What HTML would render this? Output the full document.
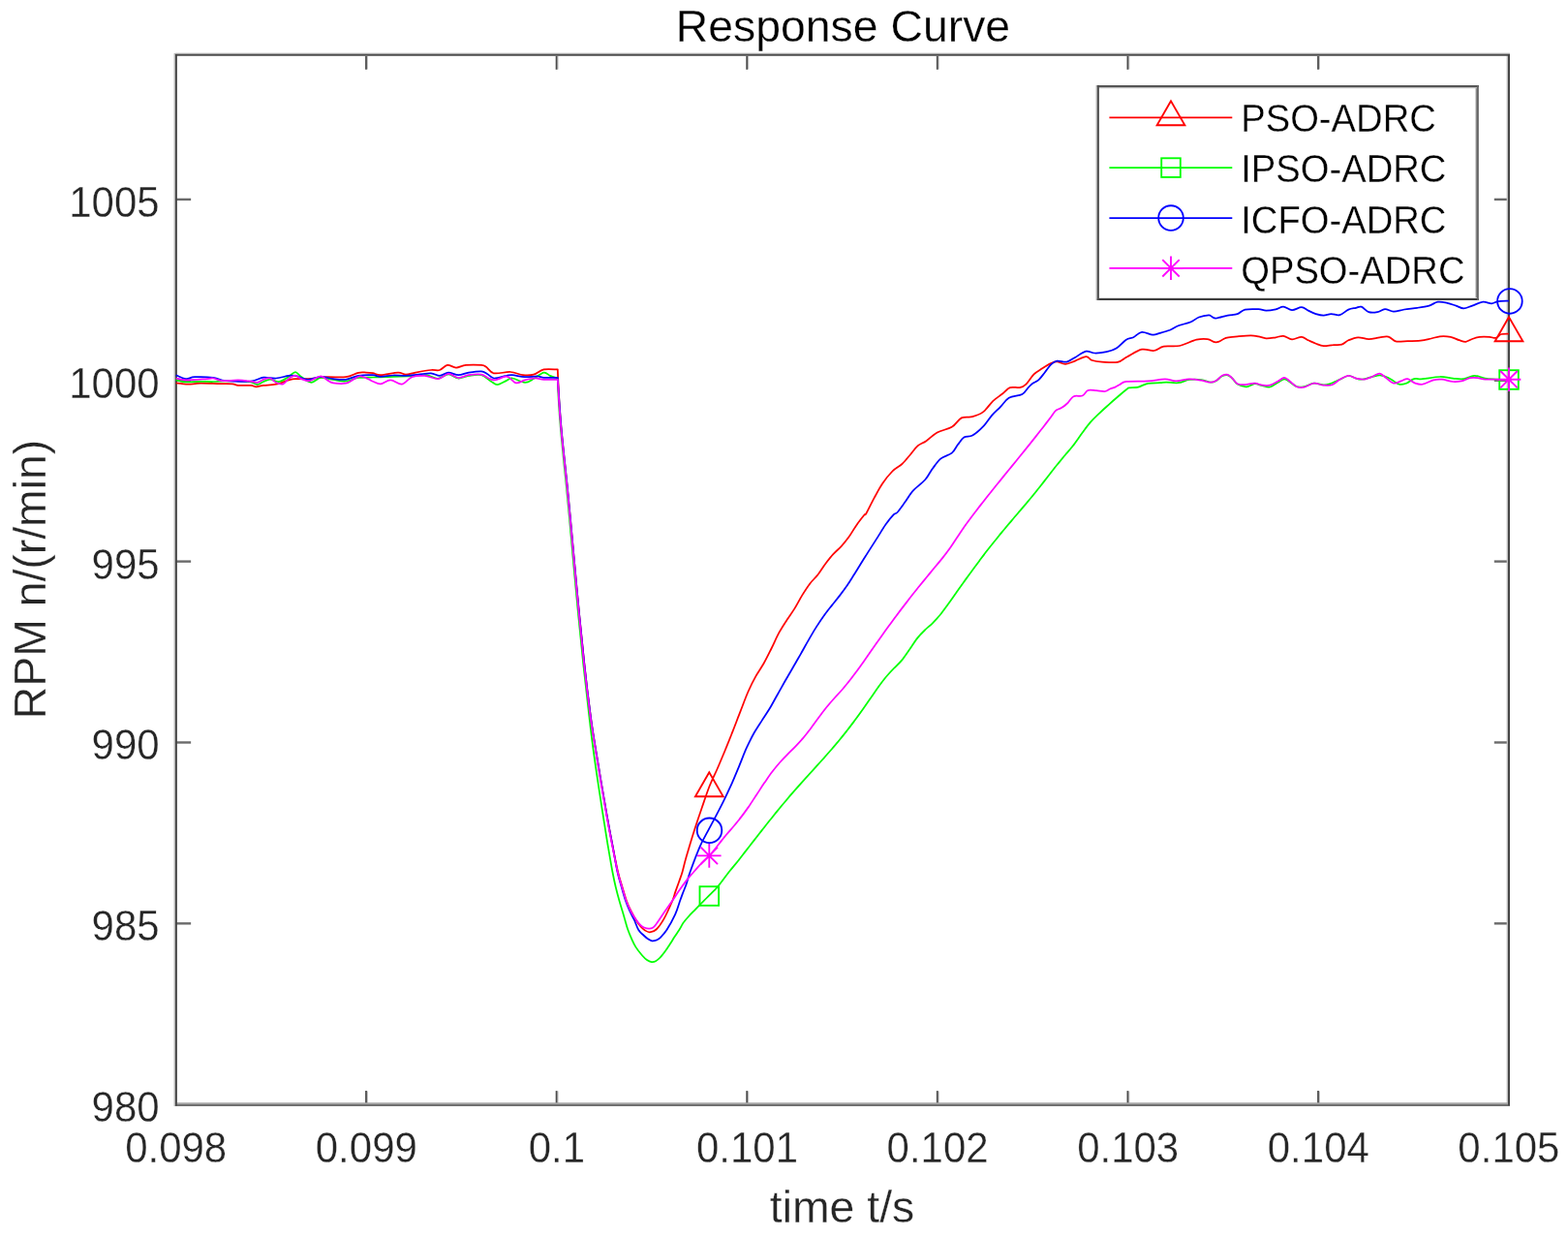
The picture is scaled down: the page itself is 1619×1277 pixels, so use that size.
<!DOCTYPE html>
<html lang="en">
<head>
<meta charset="utf-8">
<title>Response Curve</title>
<style>
html,body{margin:0;padding:0;background:#fff}
body{width:1619px;height:1277px;overflow:hidden}
svg{display:block}
text{font-family:"Liberation Sans",Arial,Helvetica,sans-serif}
</style>
</head>
<body>
<svg width="1619" height="1277" viewBox="0 0 1619 1277">
<rect width="1619" height="1277" fill="#fff"/>
<g fill="none" stroke-linecap="butt">
<path d="M379.35,1140.00V1126.40" stroke="#c4c4c4" stroke-width="1.3"/>
<path d="M378.00,1140.00V1126.10" stroke="#4c4c4c" stroke-width="1.8"/>
<path d="M379.35,57.90V71.50" stroke="#c4c4c4" stroke-width="1.3"/>
<path d="M378.00,57.90V71.80" stroke="#4c4c4c" stroke-width="1.8"/>
<path d="M575.95,1140.00V1126.40" stroke="#c4c4c4" stroke-width="1.3"/>
<path d="M574.60,1140.00V1126.10" stroke="#4c4c4c" stroke-width="1.8"/>
<path d="M575.95,57.90V71.50" stroke="#c4c4c4" stroke-width="1.3"/>
<path d="M574.60,57.90V71.80" stroke="#4c4c4c" stroke-width="1.8"/>
<path d="M772.55,1140.00V1126.40" stroke="#c4c4c4" stroke-width="1.3"/>
<path d="M771.20,1140.00V1126.10" stroke="#4c4c4c" stroke-width="1.8"/>
<path d="M772.55,57.90V71.50" stroke="#c4c4c4" stroke-width="1.3"/>
<path d="M771.20,57.90V71.80" stroke="#4c4c4c" stroke-width="1.8"/>
<path d="M969.15,1140.00V1126.40" stroke="#c4c4c4" stroke-width="1.3"/>
<path d="M967.80,1140.00V1126.10" stroke="#4c4c4c" stroke-width="1.8"/>
<path d="M969.15,57.90V71.50" stroke="#c4c4c4" stroke-width="1.3"/>
<path d="M967.80,57.90V71.80" stroke="#4c4c4c" stroke-width="1.8"/>
<path d="M1165.75,1140.00V1126.40" stroke="#c4c4c4" stroke-width="1.3"/>
<path d="M1164.40,1140.00V1126.10" stroke="#4c4c4c" stroke-width="1.8"/>
<path d="M1165.75,57.90V71.50" stroke="#c4c4c4" stroke-width="1.3"/>
<path d="M1164.40,57.90V71.80" stroke="#4c4c4c" stroke-width="1.8"/>
<path d="M1362.35,1140.00V1126.40" stroke="#c4c4c4" stroke-width="1.3"/>
<path d="M1361.00,1140.00V1126.10" stroke="#4c4c4c" stroke-width="1.8"/>
<path d="M1362.35,57.90V71.50" stroke="#c4c4c4" stroke-width="1.3"/>
<path d="M1361.00,57.90V71.80" stroke="#4c4c4c" stroke-width="1.8"/>
<path d="M181.95,953.34H197.15" stroke="#6a6a6a" stroke-width="2.4"/>
<path d="M1558.00,953.34H1542.80" stroke="#6a6a6a" stroke-width="2.4"/>
<path d="M181.95,766.48H197.15" stroke="#6a6a6a" stroke-width="2.4"/>
<path d="M1558.00,766.48H1542.80" stroke="#6a6a6a" stroke-width="2.4"/>
<path d="M181.95,579.61H197.15" stroke="#6a6a6a" stroke-width="2.4"/>
<path d="M1558.00,579.61H1542.80" stroke="#6a6a6a" stroke-width="2.4"/>
<path d="M181.95,392.75H197.15" stroke="#6a6a6a" stroke-width="2.4"/>
<path d="M1558.00,392.75H1542.80" stroke="#6a6a6a" stroke-width="2.4"/>
<path d="M181.95,205.89H197.15" stroke="#6a6a6a" stroke-width="2.4"/>
<path d="M1558.00,205.89H1542.80" stroke="#6a6a6a" stroke-width="2.4"/>
<path d="M180.35,55.10V1142.00" stroke="#b4b4b4" stroke-width="1.4"/>
<path d="M1556.35,55.10V1140.00" stroke="#bcbcbc" stroke-width="1.4"/>
<path d="M181.05,55.35H1559.00" stroke="#a8a8a8" stroke-width="1.4"/>
<path d="M182.85,1139.20H1557.00" stroke="#a4a4a4" stroke-width="1.7"/>
<path d="M181.00,1141.00H1559.00" stroke="#707070" stroke-width="2.0"/>
<path d="M181.00,56.90H1559.00" stroke="#4d4d4d" stroke-width="1.8"/>
<path d="M181.95,56.00V1141.50" stroke="#484848" stroke-width="1.9"/>
<path d="M1558.00,56.00V1141.20" stroke="#464646" stroke-width="2.0"/>
</g>
<g fill="none" stroke-linejoin="round" stroke-linecap="butt" stroke-width="1.75">
<path stroke="#ff0000" d="M181.7,395.5C182.8,395.6 185.8,396.0 188.0,396.2C190.2,396.4 191.8,396.8 195.0,396.7C198.2,396.6 201.7,395.8 207.0,395.7C212.3,395.6 221.5,396.1 227.0,396.2C232.5,396.3 236.8,396.1 240.0,396.4C243.2,396.7 242.8,397.6 246.0,397.9C249.2,398.1 255.9,397.7 259.0,397.9C262.1,398.1 262.3,399.3 264.5,399.3C266.7,399.3 268.6,398.3 272.0,397.9C275.4,397.5 280.7,397.6 285.0,396.7C289.3,395.8 294.7,393.3 298.0,392.4C301.3,391.5 301.7,391.3 305.0,391.1C308.3,390.9 312.7,391.4 318.0,391.1C323.3,390.8 330.5,389.5 337.0,389.2C343.5,388.9 351.5,389.9 357.0,389.2C362.5,388.5 366.5,385.6 370.0,384.8C373.5,384.0 375.5,384.5 378.0,384.6C380.5,384.7 382.5,384.8 385.0,385.2C387.5,385.6 388.7,387.3 393.0,387.2C397.3,387.1 406.7,384.7 411.0,384.6C415.3,384.5 416.0,386.6 419.0,386.6C422.0,386.6 424.7,385.4 429.0,384.6C433.3,383.8 440.8,382.4 445.0,382.0C449.2,381.6 451.2,382.9 454.0,382.0C456.8,381.1 459.2,377.3 462.0,376.9C464.8,376.5 467.8,379.5 471.0,379.5C474.2,379.5 476.7,377.3 481.0,376.9C485.3,376.5 493.5,376.6 497.0,376.9C500.5,377.2 499.8,377.4 502.0,378.8C504.2,380.2 505.8,384.4 510.0,385.3C514.2,386.2 522.0,383.7 527.0,384.0C532.0,384.3 536.0,386.8 540.0,387.2C544.0,387.6 547.4,387.6 551.0,386.6C554.6,385.6 557.4,382.3 561.5,381.4C565.6,380.5 573.1,381.4 575.4,381.4L575.8,381.4C576.0,386.6 576.7,402.7 577.3,412.6C577.9,422.5 578.6,431.4 579.4,440.8C580.2,450.2 581.2,459.6 582.2,469.0C583.2,478.4 584.1,486.3 585.2,497.0C586.3,507.7 586.9,514.2 588.7,533.0C590.5,551.8 593.4,584.7 595.8,610.0C598.2,635.3 600.9,663.3 603.3,685.0C605.6,706.7 607.8,724.2 609.9,740.0C612.0,755.8 613.4,763.3 616.1,780.0C618.8,796.7 623.6,824.7 626.3,840.0C629.0,855.3 630.3,862.0 632.3,872.0C634.2,882.0 636.3,892.7 638.0,900.0C639.7,907.3 641.1,911.0 642.6,916.0C644.1,921.0 645.4,925.8 646.9,930.0C648.4,934.2 650.1,937.7 651.8,941.0C653.4,944.3 655.2,947.4 656.8,950.0C658.4,952.6 660.0,954.8 661.5,956.5C663.0,958.2 664.4,959.5 666.0,960.5C667.6,961.5 669.1,962.5 671.0,962.3C672.9,962.1 675.2,961.8 677.6,959.5C680.0,957.2 682.7,953.5 685.5,948.6C688.3,943.7 692.3,934.6 694.3,930.0C696.2,925.4 696.1,924.4 697.2,921.1C698.3,917.8 699.9,913.7 701.1,910.2C702.3,906.7 703.4,904.2 704.6,900.0C705.8,895.8 706.5,891.9 708.5,885.0C710.5,878.1 713.8,866.8 716.5,858.4C719.2,850.0 721.8,842.3 724.5,834.5C727.2,826.7 729.8,818.5 732.5,811.7C735.2,805.0 737.8,800.1 740.5,794.0C743.2,787.9 745.8,781.5 748.5,775.0C751.2,768.5 753.8,761.9 756.5,755.1C759.2,748.3 761.8,741.2 764.5,734.4C767.2,727.5 769.8,720.1 772.5,714.0C775.2,707.9 777.8,702.7 780.5,697.9C783.2,693.1 785.8,689.7 788.5,685.0C791.2,680.3 793.8,674.9 796.5,669.5C799.2,664.1 801.8,657.8 804.5,652.9C807.2,648.0 809.8,644.1 812.5,640.0C815.2,635.9 817.8,632.4 820.5,628.1C823.2,623.8 825.8,618.4 828.5,614.1C831.2,609.8 833.8,605.7 836.5,602.2C839.2,598.7 841.8,596.6 844.5,593.2C847.2,589.8 849.8,585.2 852.5,581.7C855.2,578.2 857.8,574.8 860.5,571.9C863.2,569.0 865.8,567.0 868.5,564.1C871.2,561.2 873.8,558.0 876.5,554.3C879.2,550.6 881.8,545.7 884.5,541.9C887.2,538.1 890.9,533.5 892.5,531.5C894.1,529.5 892.7,532.9 894.4,530.0C896.1,527.1 899.8,519.2 902.6,514.1C905.4,509.0 908.2,503.7 911.3,499.1C914.4,494.5 918.0,489.9 921.4,486.5C924.8,483.1 928.3,481.9 931.4,479.0C934.5,476.1 937.5,472.1 940.2,469.0C942.9,465.9 945.0,462.5 947.7,460.2C950.4,457.9 953.1,457.5 956.4,455.2C959.7,452.9 963.3,448.8 967.7,446.4C972.1,444.0 978.6,443.3 982.8,440.8C987.0,438.3 989.2,433.2 992.8,431.4C996.3,429.6 1000.4,431.2 1004.1,430.2C1007.9,429.1 1011.8,427.8 1015.3,425.1C1018.8,422.4 1022.1,417.0 1025.4,413.9C1028.8,410.8 1032.5,408.6 1035.4,406.3C1038.3,404.0 1040.0,401.1 1042.9,400.1C1045.8,399.1 1050.2,400.6 1052.9,400.1C1055.6,399.6 1056.8,399.2 1059.2,396.9C1061.6,394.6 1064.7,389.2 1067.5,386.4C1070.3,383.6 1073.4,382.1 1076.3,380.2C1079.2,378.3 1082.6,376.2 1085.1,375.1C1087.6,374.0 1088.8,373.2 1091.3,373.3C1093.8,373.4 1097.0,375.9 1100.1,375.8C1103.2,375.7 1106.5,373.9 1110.1,372.6C1113.6,371.3 1118.5,368.3 1121.4,368.2C1124.3,368.1 1125.0,371.1 1127.7,372.0C1130.4,372.9 1133.3,373.3 1137.7,373.6C1142.1,373.9 1149.6,374.8 1154.0,373.9C1158.4,373.0 1159.8,370.4 1164.0,368.2C1168.2,366.0 1174.4,361.7 1179.0,360.7C1183.6,359.7 1187.8,362.5 1191.6,362.0C1195.4,361.5 1197.2,358.4 1201.6,357.6C1206.0,356.8 1212.3,358.1 1217.9,357.0C1223.5,355.9 1230.6,351.8 1235.4,350.7C1240.2,349.6 1243.6,349.7 1246.7,350.1C1249.8,350.5 1252.2,352.8 1254.2,353.2C1256.2,353.6 1257.1,353.2 1259.0,352.5C1260.9,351.8 1262.7,349.7 1265.8,348.8C1268.9,347.9 1273.4,347.7 1277.7,347.3C1282.0,346.9 1287.9,346.3 1291.5,346.3C1295.1,346.3 1296.8,346.8 1299.4,347.3C1302.0,347.8 1304.3,349.1 1307.3,349.3C1310.3,349.5 1314.2,348.7 1317.2,348.3C1320.2,347.9 1322.3,346.5 1325.1,346.8C1327.9,347.1 1330.9,350.1 1334.0,350.3C1337.1,350.5 1341.1,347.6 1343.9,347.8C1346.7,348.0 1348.3,350.2 1350.8,351.3C1353.3,352.4 1356.1,353.7 1358.7,354.7C1361.3,355.7 1363.6,356.9 1366.6,357.2C1369.6,357.4 1373.4,356.4 1376.5,356.2C1379.6,355.9 1382.8,356.5 1385.4,355.7C1388.0,354.9 1389.5,352.5 1392.3,351.3C1395.1,350.1 1398.7,348.5 1402.2,348.3C1405.7,348.1 1409.6,350.0 1413.3,350.0C1417.0,350.0 1421.2,348.8 1424.5,348.4C1427.8,348.0 1430.6,347.0 1433.4,347.6C1436.2,348.2 1438.3,351.5 1441.1,352.3C1443.9,353.1 1445.7,352.4 1450.0,352.3C1454.3,352.2 1462.1,352.2 1466.7,351.7C1471.3,351.2 1474.5,350.2 1477.8,349.5C1481.1,348.8 1483.4,347.6 1486.7,347.3C1490.0,347.0 1494.5,347.2 1497.8,347.8C1501.1,348.4 1504.1,350.4 1506.7,351.2C1509.3,352.0 1511.2,353.0 1513.4,352.8C1515.6,352.6 1517.7,350.8 1520.1,350.0C1522.5,349.2 1524.9,348.2 1527.9,347.8C1530.9,347.4 1535.1,347.6 1537.9,347.8C1540.7,348.0 1542.5,349.4 1544.5,348.9C1546.5,348.4 1547.9,345.7 1550.1,345.0C1552.3,344.3 1556.6,344.6 1557.9,344.5"/>
<path stroke="#00ff00" d="M181.7,392.0C183.1,392.4 185.8,394.1 190.0,394.4C194.2,394.7 202.0,393.9 207.0,393.8C212.0,393.7 215.7,394.1 220.0,394.0C224.3,393.9 228.7,393.6 233.0,393.5C237.3,393.4 241.7,393.1 246.0,393.3C250.3,393.5 255.7,393.9 259.0,394.5C262.3,395.1 263.8,397.1 266.0,397.0C268.2,396.9 269.8,394.9 272.0,394.0C274.2,393.1 276.3,391.5 279.0,391.5C281.7,391.5 284.8,394.4 288.0,394.0C291.2,393.6 295.2,390.7 298.0,389.0C300.8,387.3 302.8,384.0 305.0,384.0C307.2,384.0 308.2,387.2 311.0,389.0C313.8,390.8 318.2,394.6 321.5,394.8C324.8,395.0 327.2,390.5 331.0,390.0C334.8,389.5 339.7,391.4 344.0,392.0C348.3,392.6 352.7,393.8 357.0,393.5C361.3,393.2 365.3,390.7 370.0,390.0C374.7,389.3 380.0,389.6 385.0,389.5C390.0,389.4 394.2,389.4 400.0,389.2C405.8,389.0 413.3,388.7 420.0,388.4C426.7,388.1 434.7,386.8 440.0,387.2C445.3,387.6 448.2,390.9 452.0,390.8C455.8,390.7 459.5,386.6 463.0,386.5C466.5,386.4 469.5,390.2 473.0,390.5C476.5,390.8 480.0,388.6 484.0,388.0C488.0,387.4 493.2,386.2 497.0,387.2C500.8,388.1 504.2,392.1 507.0,393.7C509.8,395.3 511.0,397.1 513.6,397.0C516.2,396.9 520.1,394.2 522.7,393.1C525.3,392.0 525.8,390.2 529.0,390.5C532.2,390.8 538.3,394.7 542.0,394.8C545.7,394.9 547.8,392.8 551.0,391.1C554.2,389.4 558.7,385.1 561.5,384.6C564.3,384.1 565.7,386.9 568.0,387.9C570.3,388.9 574.2,390.1 575.4,390.5L575.8,390.5C575.9,394.2 576.2,404.2 576.7,412.6C577.2,421.0 577.9,431.4 578.7,440.8C579.5,450.2 580.5,459.6 581.4,469.0C582.3,478.4 583.2,486.3 584.3,497.0C585.4,507.7 586.0,514.2 587.8,533.0C589.5,551.8 592.4,584.7 594.8,610.0C597.2,635.3 599.9,663.3 602.2,685.0C604.5,706.7 606.5,724.2 608.4,740.0C610.3,755.8 611.1,763.3 613.4,780.0C615.7,796.7 620.0,824.7 622.4,840.0C624.8,855.3 625.8,862.0 627.5,872.0C629.2,882.0 631.0,892.7 632.4,900.0C633.8,907.3 634.6,911.0 635.8,916.0C637.0,921.0 638.3,925.8 639.5,930.0C640.7,934.2 641.8,937.7 642.8,941.0C643.8,944.3 644.5,946.8 645.4,950.0C646.3,953.2 647.3,957.0 648.4,960.0C649.5,963.0 650.4,965.3 651.7,968.2C653.0,971.1 654.5,974.6 656.4,977.6C658.3,980.6 661.3,984.3 663.2,986.5C665.1,988.7 666.4,989.9 668.0,991.0C669.6,992.1 671.2,992.9 672.7,993.1C674.2,993.3 675.5,993.1 677.0,992.3C678.5,991.5 679.9,990.2 681.6,988.5C683.3,986.8 685.3,984.1 687.0,981.8C688.7,979.5 690.1,977.2 691.7,974.8C693.3,972.4 694.8,969.8 696.4,967.3C698.0,964.8 699.8,962.3 701.3,960.0C702.8,957.7 704.0,955.0 705.1,953.3C706.2,951.6 706.4,951.5 707.6,950.0C708.8,948.5 710.6,946.5 712.3,944.6C714.0,942.7 716.5,940.4 718.0,938.8C719.5,937.2 720.1,936.6 721.6,935.1C723.1,933.6 725.1,931.6 727.0,929.7C728.9,927.8 730.6,926.0 733.0,923.6C735.4,921.2 738.0,919.0 741.3,915.1C744.6,911.2 749.2,904.6 752.8,900.0C756.4,895.4 759.9,891.5 762.9,887.7C765.9,883.9 768.2,880.8 770.9,877.4C773.6,874.0 776.2,870.5 778.9,867.1C781.6,863.7 784.2,860.3 786.9,856.9C789.6,853.5 792.2,850.1 794.9,846.8C797.6,843.5 800.2,840.1 802.9,836.9C805.6,833.6 808.2,830.5 810.9,827.3C813.6,824.1 816.2,821.0 818.9,817.9C821.6,814.8 824.2,811.9 826.9,808.9C829.6,805.9 832.2,803.0 834.9,800.0C837.6,797.0 840.2,794.2 842.9,791.2C845.6,788.2 848.2,785.3 850.9,782.3C853.6,779.3 856.2,776.3 858.9,773.2C861.6,770.1 864.2,766.9 866.9,763.7C869.6,760.5 872.2,757.2 874.9,753.8C877.6,750.4 880.2,746.9 882.9,743.3C885.6,739.7 888.2,736.1 890.9,732.3C893.6,728.5 896.2,724.6 898.9,720.7C901.6,716.9 904.2,712.9 906.9,709.2C909.6,705.5 912.2,701.9 914.9,698.7C917.6,695.5 920.2,692.8 922.9,690.0C925.6,687.2 928.2,685.1 930.9,681.9C933.6,678.7 936.2,674.6 938.9,670.8C941.6,667.0 944.2,662.5 946.9,659.1C949.6,655.7 952.2,653.1 954.9,650.5C957.6,647.9 960.2,646.0 962.9,643.3C965.6,640.6 968.2,637.8 970.9,634.5C973.6,631.2 976.2,627.5 978.9,623.8C981.6,620.1 984.2,616.3 986.9,612.5C989.6,608.7 992.2,604.9 994.9,601.2C997.6,597.5 1000.2,593.8 1002.9,590.2C1005.6,586.6 1008.2,583.0 1010.9,579.4C1013.6,575.8 1016.2,572.2 1018.9,568.8C1021.6,565.3 1024.2,562.0 1026.9,558.7C1029.6,555.4 1032.2,552.1 1034.9,548.9C1037.6,545.7 1040.2,542.5 1042.9,539.4C1045.6,536.2 1048.2,533.1 1050.9,530.0C1053.6,526.9 1056.2,523.8 1058.9,520.6C1061.6,517.4 1064.2,514.3 1066.9,511.0C1069.6,507.7 1072.2,504.4 1074.9,501.0C1077.6,497.6 1080.2,494.1 1082.9,490.7C1085.6,487.3 1088.2,483.8 1090.9,480.5C1093.6,477.2 1097.4,472.6 1098.9,470.8C1100.4,469.0 1098.5,471.3 1100.0,469.5C1101.5,467.7 1105.2,463.7 1108.0,460.0C1110.8,456.3 1114.0,451.6 1117.0,447.5C1120.0,443.4 1122.9,439.2 1126.1,435.6C1129.3,432.0 1132.7,429.0 1136.0,425.8C1139.3,422.6 1142.8,419.6 1146.1,416.6C1149.4,413.6 1153.1,410.5 1156.0,408.0C1158.9,405.5 1161.8,403.1 1163.5,401.8C1165.2,400.5 1164.0,400.8 1166.0,400.4C1168.0,400.0 1172.1,400.4 1175.3,399.6C1178.5,398.8 1181.5,396.5 1185.3,395.8C1189.0,395.1 1194.7,395.4 1197.8,395.2C1200.9,395.0 1201.0,394.6 1204.1,394.6C1207.2,394.6 1212.6,395.6 1216.6,395.2C1220.6,394.8 1223.9,392.5 1227.9,392.0C1231.9,391.5 1236.8,391.6 1240.5,392.0C1244.2,392.4 1247.4,394.5 1250.0,394.7C1252.6,394.9 1253.9,394.1 1255.9,393.0C1257.9,391.9 1259.9,389.2 1261.9,388.3C1263.9,387.4 1266.0,386.9 1267.8,387.3C1269.6,387.8 1271.0,389.5 1272.7,391.0C1274.4,392.5 1275.3,395.1 1277.7,396.5C1280.1,397.9 1284.0,399.4 1287.0,399.3C1290.0,399.2 1292.8,396.4 1295.5,396.2C1298.2,396.0 1300.8,397.6 1303.4,398.2C1306.0,398.8 1308.7,400.0 1311.3,399.5C1313.9,399.0 1316.7,396.3 1319.2,395.0C1321.7,393.7 1324.0,391.6 1326.1,391.5C1328.2,391.4 1329.9,393.2 1332.0,394.5C1334.1,395.8 1336.4,398.4 1338.9,399.2C1341.4,399.9 1343.8,399.6 1346.8,399.0C1349.8,398.4 1353.4,396.0 1356.7,395.7C1360.0,395.4 1363.9,397.2 1366.6,397.3C1369.3,397.4 1370.2,397.2 1373.0,396.3C1375.8,395.4 1380.2,393.2 1383.4,391.8C1386.6,390.4 1389.5,388.2 1392.3,388.0C1395.1,387.8 1397.8,390.0 1400.2,390.6C1402.7,391.2 1403.0,392.1 1407.0,391.5C1411.0,390.9 1419.7,387.4 1424.5,387.3C1429.3,387.2 1432.3,389.6 1435.6,391.2C1438.9,392.8 1441.7,396.0 1444.5,396.7C1447.3,397.4 1449.7,396.5 1452.3,395.6C1454.9,394.7 1457.2,391.9 1460.0,391.2C1462.8,390.5 1464.5,391.6 1468.9,391.2C1473.4,390.8 1481.5,389.1 1486.7,389.0C1491.9,388.9 1496.0,390.2 1500.1,390.6C1504.2,391.0 1507.5,391.7 1511.2,391.2C1514.9,390.7 1518.6,387.9 1522.3,387.8C1526.0,387.7 1529.7,390.0 1533.4,390.6C1537.1,391.2 1540.4,391.3 1544.5,391.6C1548.6,391.9 1555.7,392.1 1557.9,392.2"/>
<path stroke="#0000ff" d="M181.7,387.2C183.4,387.9 188.8,390.8 192.0,391.1C195.2,391.4 196.3,389.4 201.0,389.2C205.7,389.0 214.7,389.1 220.0,389.8C225.3,390.5 226.5,392.5 233.0,393.1C239.5,393.7 252.5,394.1 259.0,393.5C265.5,392.9 267.7,390.1 272.0,389.6C276.3,389.1 280.7,390.8 285.0,390.5C289.3,390.2 294.7,388.3 298.0,387.9C301.3,387.5 301.7,387.2 305.0,387.9C308.3,388.5 313.7,391.6 318.0,391.8C322.3,392.0 326.7,388.9 331.0,388.8C335.3,388.7 339.7,390.6 344.0,391.1C348.3,391.6 352.7,392.3 357.0,391.8C361.3,391.3 365.3,388.7 370.0,387.9C374.7,387.1 381.2,387.0 385.0,387.2C388.8,387.4 389.5,388.8 393.0,388.8C396.5,388.9 401.7,387.6 406.0,387.5C410.3,387.4 414.7,388.0 419.0,387.9C423.3,387.8 427.7,387.0 432.0,386.6C436.3,386.2 441.3,385.1 445.0,385.3C448.7,385.5 451.0,388.0 454.0,387.9C457.0,387.8 459.8,384.7 463.0,384.6C466.2,384.5 469.9,387.2 473.4,387.2C476.9,387.2 480.1,385.2 484.0,384.6C487.9,384.0 493.8,383.1 497.0,383.3C500.2,383.5 500.8,384.7 503.0,385.9C505.2,387.1 506.7,390.2 510.0,390.5C513.3,390.8 519.8,388.4 523.0,387.9C526.2,387.3 525.8,387.0 529.0,387.2C532.2,387.4 537.7,389.0 542.0,389.2C546.3,389.4 551.8,388.4 555.0,388.5C558.2,388.6 558.1,389.6 561.5,389.8C564.9,390.0 573.1,389.8 575.4,389.8L575.8,389.8C576.0,393.6 576.7,404.1 577.3,412.6C577.9,421.1 578.6,431.4 579.4,440.8C580.2,450.2 581.2,459.6 582.2,469.0C583.2,478.4 584.1,486.3 585.2,497.0C586.3,507.7 586.9,514.2 588.7,533.0C590.5,551.8 593.4,584.7 595.8,610.0C598.2,635.3 600.9,663.3 603.3,685.0C605.6,706.7 607.8,724.2 609.9,740.0C612.0,755.8 613.4,763.3 616.1,780.0C618.8,796.7 623.6,824.7 626.3,840.0C629.0,855.3 630.4,862.0 632.3,872.0C634.2,882.0 635.9,892.7 637.5,900.0C639.1,907.3 640.4,911.0 641.8,916.0C643.2,921.0 644.6,926.0 646.0,930.0C647.4,934.0 648.5,936.7 650.0,940.0C651.5,943.3 653.5,946.7 655.0,950.0C656.5,953.3 657.7,957.4 659.3,960.0C660.9,962.6 662.9,964.0 664.5,965.5C666.1,967.0 667.5,968.3 669.0,969.3C670.5,970.3 671.9,971.1 673.3,971.3C674.7,971.5 676.1,971.1 677.5,970.6C678.9,970.1 679.8,969.9 681.6,968.1C683.4,966.3 685.8,964.0 688.4,960.0C691.0,956.0 694.9,948.9 697.2,943.9C699.5,938.9 700.8,933.7 702.1,930.0C703.4,926.3 704.0,924.9 705.1,921.9C706.2,918.9 707.8,915.4 709.0,911.7C710.2,908.1 710.3,906.3 712.6,900.0C714.9,893.7 719.8,880.7 722.8,873.7C725.8,866.7 728.1,863.3 730.8,858.2C733.5,853.1 736.1,848.2 738.8,843.1C741.5,838.0 744.1,833.0 746.8,827.6C749.5,822.2 752.1,816.7 754.8,810.7C757.5,804.7 760.1,798.2 762.8,791.8C765.5,785.4 768.1,778.1 770.8,772.2C773.5,766.3 776.1,761.1 778.8,756.3C781.5,751.5 784.1,747.8 786.8,743.6C789.5,739.4 792.1,735.6 794.8,731.2C797.5,726.8 800.1,721.7 802.8,717.0C805.5,712.3 808.1,707.5 810.8,702.8C813.5,698.1 816.1,693.6 818.8,689.0C821.5,684.4 824.1,679.8 826.8,675.1C829.5,670.4 832.1,665.5 834.8,660.9C837.5,656.3 840.1,651.6 842.8,647.4C845.5,643.1 848.1,639.1 850.8,635.4C853.5,631.7 856.1,628.5 858.8,625.1C861.5,621.7 864.1,618.6 866.8,615.1C869.5,611.6 872.1,608.2 874.8,604.3C877.5,600.4 880.1,596.0 882.8,591.8C885.5,587.5 888.1,583.1 890.8,578.8C893.5,574.5 896.1,570.3 898.8,566.1C901.5,561.9 904.1,557.8 906.8,553.6C909.5,549.4 912.1,544.7 914.8,541.0C917.5,537.3 920.9,533.2 922.8,531.2C924.7,529.2 924.5,531.0 926.4,529.0C928.2,527.0 931.2,522.8 933.9,519.1C936.6,515.4 939.2,510.6 942.7,506.6C946.2,502.6 951.9,499.1 955.2,495.3C958.5,491.5 960.0,487.6 962.7,484.0C965.4,480.4 968.1,476.1 971.5,473.4C974.9,470.7 979.9,470.1 982.8,467.7C985.7,465.3 986.9,461.7 989.0,459.0C991.1,456.3 992.8,453.1 995.3,451.5C997.8,449.9 1000.8,451.5 1004.1,449.6C1007.4,447.7 1012.0,443.6 1015.3,440.2C1018.6,436.8 1021.2,432.2 1024.1,428.9C1027.0,425.5 1030.0,423.1 1032.9,420.1C1035.8,417.1 1038.0,412.9 1041.7,410.7C1045.5,408.5 1052.1,408.8 1055.4,407.0C1058.7,405.2 1059.9,402.0 1061.7,400.1C1063.5,398.2 1064.5,397.1 1066.3,395.8C1068.1,394.5 1070.4,394.0 1072.5,392.1C1074.6,390.2 1076.7,387.1 1078.8,384.5C1080.9,381.9 1083.0,378.4 1085.1,376.4C1087.2,374.4 1088.6,373.1 1091.3,372.6C1094.0,372.1 1098.3,374.2 1101.4,373.6C1104.5,373.0 1106.8,370.7 1110.1,368.9C1113.4,367.1 1118.1,363.3 1121.4,362.6C1124.8,361.9 1126.7,364.4 1130.2,364.5C1133.8,364.6 1139.0,364.0 1142.7,363.2C1146.5,362.4 1149.4,361.6 1152.7,359.5C1156.0,357.4 1159.9,352.6 1162.8,350.7C1165.7,348.8 1167.6,349.5 1170.3,348.2C1173.0,346.9 1175.7,343.2 1179.0,342.8C1182.3,342.4 1187.2,345.5 1190.3,345.7C1193.4,345.9 1194.9,344.6 1197.8,343.8C1200.7,343.0 1204.8,341.9 1207.9,340.7C1211.0,339.4 1213.0,337.7 1216.6,336.3C1220.1,334.9 1225.7,334.0 1229.2,332.5C1232.8,331.0 1234.8,328.7 1237.9,327.5C1241.0,326.3 1245.8,325.4 1248.0,325.3C1250.2,325.2 1249.7,326.3 1251.0,326.8C1252.3,327.3 1253.1,328.7 1255.9,328.5C1258.7,328.3 1264.2,326.3 1267.8,325.6C1271.4,324.9 1274.7,325.1 1277.7,324.1C1280.7,323.1 1282.0,320.4 1285.6,319.6C1289.2,318.8 1295.8,319.0 1299.4,319.2C1303.0,319.4 1304.3,320.6 1307.3,320.6C1310.3,320.6 1314.2,320.0 1317.2,319.4C1320.2,318.8 1322.3,316.6 1325.1,316.7C1327.9,316.8 1330.9,320.0 1334.0,320.1C1337.1,320.2 1341.1,317.1 1343.9,317.2C1346.7,317.3 1348.3,319.5 1350.8,320.6C1353.3,321.8 1356.1,323.3 1358.7,324.1C1361.3,324.9 1364.0,325.6 1366.6,325.6C1369.2,325.6 1371.7,324.2 1374.5,324.1C1377.3,324.0 1380.4,325.9 1383.4,325.1C1386.4,324.4 1389.5,320.8 1392.3,319.6C1395.1,318.4 1397.8,318.3 1400.0,317.8C1402.2,317.3 1403.4,316.0 1405.6,316.7C1407.8,317.4 1410.5,321.3 1413.3,322.2C1416.1,323.1 1419.4,322.7 1422.2,322.2C1425.0,321.7 1427.2,319.2 1430.0,319.1C1432.8,319.0 1435.6,321.6 1438.9,321.7C1442.2,321.8 1445.9,320.1 1450.0,319.5C1454.1,318.9 1459.1,318.4 1463.4,317.8C1467.7,317.2 1472.1,316.6 1475.6,315.6C1479.1,314.6 1481.3,312.2 1484.5,311.7C1487.7,311.2 1491.3,312.1 1494.5,312.8C1497.7,313.5 1500.6,314.7 1503.4,315.6C1506.2,316.5 1508.4,318.4 1511.2,318.4C1514.0,318.4 1516.8,316.7 1520.1,315.6C1523.4,314.5 1527.9,312.1 1531.2,311.7C1534.5,311.3 1537.5,313.4 1540.1,313.3C1542.7,313.2 1543.8,311.6 1546.8,311.1C1549.8,310.7 1556.1,310.7 1557.9,310.6"/>
<path stroke="#ff00ff" d="M181.7,390.5C183.4,390.8 186.6,392.3 192.0,392.4C197.4,392.5 209.3,391.4 214.0,391.1C218.7,390.8 217.4,390.2 220.0,390.5C222.6,390.8 225.2,392.8 229.5,393.1C233.8,393.4 241.1,392.3 246.0,392.4C250.9,392.5 255.7,393.3 259.0,393.7C262.3,394.1 263.6,395.2 266.0,394.8C268.4,394.4 271.3,391.8 273.5,391.1C275.7,390.4 277.1,389.9 279.0,390.5C280.9,391.1 282.8,394.0 285.0,395.0C287.2,396.0 289.8,397.2 292.0,396.6C294.2,396.0 295.8,392.6 298.0,391.1C300.2,389.6 302.8,387.6 305.0,387.6C307.2,387.6 308.5,390.2 311.0,391.1C313.5,392.0 316.7,393.6 320.0,393.1C323.3,392.6 328.2,388.5 331.0,388.3C333.8,388.1 334.8,390.6 337.0,391.8C339.2,393.0 340.7,394.7 344.0,395.3C347.3,395.9 353.3,396.4 357.0,395.7C360.7,395.0 363.5,392.3 366.0,391.1C368.5,389.9 369.7,388.3 372.0,388.3C374.3,388.3 377.8,390.2 380.0,391.1C382.2,392.0 382.8,392.8 385.0,393.7C387.2,394.6 389.9,396.5 393.0,396.3C396.1,396.1 399.6,392.3 403.3,392.4C407.0,392.4 411.3,397.1 415.0,396.6C418.7,396.1 421.5,390.6 425.4,389.2C429.3,387.8 433.9,387.6 438.4,387.9C442.9,388.2 448.5,391.4 452.6,391.1C456.7,390.8 459.5,386.1 463.0,385.9C466.5,385.7 469.9,389.9 473.4,390.1C476.9,390.3 480.1,387.8 484.0,387.2C487.9,386.6 493.6,386.1 497.0,386.6C500.4,387.2 502.2,389.5 504.5,390.5C506.8,391.5 508.4,392.6 511.0,392.4C513.6,392.2 517.7,389.7 520.0,389.2C522.3,388.7 522.8,388.2 525.0,389.2C527.2,390.2 530.2,394.8 533.0,395.3C535.8,395.8 538.8,393.2 542.0,392.4C545.2,391.6 549.2,390.6 552.5,390.5C555.8,390.4 557.7,391.6 561.5,391.8C565.3,392.0 573.1,391.8 575.4,391.8L575.8,391.8C576.0,395.3 576.5,404.4 577.0,412.6C577.5,420.8 578.3,431.4 579.1,440.8C579.9,450.2 580.9,459.6 581.9,469.0C582.9,478.4 583.8,486.3 584.9,497.0C586.0,507.7 586.6,514.2 588.4,533.0C590.2,551.8 593.1,584.7 595.5,610.0C597.9,635.3 600.6,663.3 603.0,685.0C605.4,706.7 607.5,724.2 609.6,740.0C611.7,755.8 613.1,763.3 615.8,780.0C618.5,796.7 623.3,824.7 626.0,840.0C628.7,855.3 630.0,862.0 632.0,872.0C634.0,882.0 636.0,892.7 637.7,900.0C639.4,907.3 640.8,911.0 642.3,916.0C643.8,921.0 645.1,925.8 646.6,930.0C648.1,934.2 649.9,937.8 651.5,941.0C653.1,944.2 654.9,946.7 656.5,949.0C658.1,951.3 659.8,953.4 661.2,954.8C662.6,956.2 663.6,956.9 665.0,957.5C666.4,958.1 668.3,958.7 669.8,958.7C671.3,958.8 672.7,958.6 674.0,957.8C675.3,957.0 675.7,956.6 677.6,954.0C679.5,951.4 682.8,946.3 685.5,942.3C688.2,938.3 691.5,933.8 694.1,930.0C696.7,926.2 698.6,923.2 701.1,919.6C703.6,916.0 706.5,911.9 709.0,908.6C711.5,905.3 713.7,903.1 716.4,900.0C719.1,896.9 722.5,893.1 725.3,890.2C728.1,887.3 730.6,885.5 733.3,882.5C736.0,879.5 738.6,875.8 741.3,872.5C744.0,869.2 746.6,865.7 749.3,862.5C752.0,859.3 754.6,856.4 757.3,853.2C760.0,850.0 762.6,846.9 765.3,843.4C768.0,839.9 770.6,836.2 773.3,832.4C776.0,828.5 778.6,824.3 781.3,820.3C784.0,816.2 786.6,812.0 789.3,808.1C792.0,804.2 794.6,800.3 797.3,796.8C800.0,793.3 802.6,790.0 805.3,787.0C808.0,784.0 810.6,781.3 813.3,778.6C816.0,775.9 818.6,773.4 821.3,770.6C824.0,767.8 826.6,765.0 829.3,761.9C832.0,758.8 834.6,755.2 837.3,751.7C840.0,748.2 842.6,744.4 845.3,740.8C848.0,737.2 850.6,733.6 853.3,730.3C856.0,727.0 858.6,724.0 861.3,721.0C864.0,718.0 866.6,715.3 869.3,712.2C872.0,709.1 874.6,705.9 877.3,702.5C880.0,699.1 882.6,695.5 885.3,691.9C888.0,688.3 890.6,684.6 893.3,680.8C896.0,677.0 898.6,673.1 901.3,669.3C904.0,665.5 906.6,661.6 909.3,657.9C912.0,654.1 914.6,650.5 917.3,646.8C920.0,643.1 922.6,639.5 925.3,635.9C928.0,632.3 930.6,628.9 933.3,625.4C936.0,621.9 938.6,618.4 941.3,615.0C944.0,611.6 946.6,608.3 949.3,605.0C952.0,601.7 954.6,598.5 957.3,595.2C960.0,592.0 962.6,588.7 965.3,585.5C968.0,582.3 970.6,579.3 973.3,575.9C976.0,572.5 978.6,569.1 981.3,565.3C984.0,561.5 986.6,557.2 989.3,553.3C992.0,549.3 994.6,545.4 997.3,541.6C1000.0,537.9 1002.6,534.3 1005.3,530.8C1008.0,527.3 1010.6,523.8 1013.3,520.4C1016.0,517.0 1018.6,513.6 1021.3,510.3C1024.0,507.0 1026.6,503.6 1029.3,500.3C1032.0,497.0 1034.6,493.7 1037.3,490.4C1040.0,487.1 1042.6,483.9 1045.3,480.6C1048.0,477.3 1050.6,474.1 1053.3,470.8C1056.0,467.5 1058.6,464.2 1061.3,460.9C1064.0,457.6 1066.6,454.3 1069.3,450.9C1072.0,447.5 1074.6,444.1 1077.3,440.7C1080.0,437.2 1083.2,433.0 1085.3,430.2C1087.4,427.4 1088.3,425.3 1090.1,423.8C1091.9,422.3 1093.9,422.4 1096.0,421.1C1098.1,419.8 1100.4,418.0 1102.5,416.0C1104.6,414.0 1106.0,410.4 1108.5,409.2C1111.0,407.9 1115.1,409.5 1117.6,408.5C1120.1,407.5 1120.9,403.9 1123.3,403.0C1125.7,402.1 1129.0,403.0 1132.0,403.2C1135.0,403.4 1138.8,404.3 1141.1,404.0C1143.4,403.7 1144.4,402.2 1146.1,401.5C1147.8,400.8 1149.8,400.4 1151.5,399.6C1153.2,398.9 1154.3,397.9 1156.2,397.0C1158.1,396.1 1158.0,394.5 1162.8,393.9C1167.6,393.3 1178.6,393.7 1185.3,393.3C1192.0,392.9 1198.1,391.4 1202.9,391.4C1207.7,391.4 1209.9,393.3 1214.1,393.3C1218.3,393.3 1223.5,391.5 1227.9,391.4C1232.3,391.3 1236.8,392.1 1240.5,392.7C1244.2,393.2 1247.4,394.7 1250.0,394.7C1252.6,394.7 1253.9,393.9 1255.9,392.8C1257.9,391.7 1259.9,388.8 1261.9,387.8C1263.9,386.8 1266.0,386.3 1267.8,386.8C1269.6,387.3 1271.0,389.2 1272.7,390.8C1274.4,392.4 1275.6,395.1 1277.7,396.2C1279.8,397.3 1282.6,397.3 1285.6,397.2C1288.6,397.1 1292.5,395.6 1295.5,395.7C1298.5,395.8 1300.8,397.4 1303.4,397.7C1306.0,398.0 1308.7,398.3 1311.3,397.7C1313.9,397.1 1316.7,395.1 1319.2,393.8C1321.7,392.5 1324.0,389.8 1326.1,389.8C1328.2,389.8 1329.9,392.2 1332.0,393.8C1334.1,395.4 1336.4,398.2 1338.9,399.2C1341.4,400.2 1343.8,400.3 1346.8,399.7C1349.8,399.1 1353.4,396.0 1356.7,395.7C1360.0,395.4 1363.5,397.4 1366.6,397.7C1369.7,397.9 1372.7,398.2 1375.5,397.2C1378.3,396.2 1380.6,393.4 1383.4,391.8C1386.2,390.2 1389.5,388.0 1392.3,387.8C1395.1,387.6 1397.6,390.0 1400.2,390.6C1402.8,391.2 1405.0,392.0 1407.8,391.7C1410.5,391.4 1413.9,390.0 1416.7,389.0C1419.5,388.0 1422.1,385.4 1424.5,385.6C1426.9,385.8 1428.7,388.4 1431.1,390.1C1433.5,391.8 1436.3,395.1 1438.9,395.6C1441.5,396.2 1444.3,394.1 1446.7,393.4C1449.1,392.7 1451.0,390.8 1453.4,391.2C1455.8,391.6 1458.6,394.7 1461.2,395.6C1463.8,396.5 1465.8,397.2 1468.9,396.7C1472.1,396.1 1476.8,393.1 1480.1,392.3C1483.4,391.5 1485.6,391.4 1488.9,391.7C1492.2,392.0 1496.8,393.7 1500.1,394.0C1503.4,394.3 1506.0,394.0 1509.0,393.4C1512.0,392.8 1515.1,390.7 1517.9,390.1C1520.7,389.6 1523.0,389.8 1525.6,390.1C1528.2,390.4 1530.2,391.4 1533.4,391.7C1536.6,391.9 1540.4,391.5 1544.5,391.6C1548.6,391.7 1555.7,392.1 1557.9,392.2"/>
</g>
<g>
<polygon points="732.3,797.3 717.9,822.2 746.7,822.2" fill="none" stroke="#ff0000" stroke-width="1.85" stroke-linejoin="miter"/>
<polygon points="1558.0,327.3 1543.6,352.2 1572.4,352.2" fill="none" stroke="#ff0000" stroke-width="1.85" stroke-linejoin="miter"/>
<rect x="722.5" y="915.2" width="19.6" height="19.6" fill="none" stroke="#00ff00" stroke-width="1.85"/>
<rect x="1548.2" y="382.2" width="19.6" height="19.6" fill="none" stroke="#00ff00" stroke-width="1.85"/>
<circle cx="732.5" cy="857.3" r="12.8" fill="none" stroke="#0000ff" stroke-width="1.85"/>
<circle cx="1558.9" cy="310.9" r="12.8" fill="none" stroke="#0000ff" stroke-width="1.85"/>
<path d="M720.0,883.4H744.6M732.3,871.1V895.7M723.6,874.7L741.0,892.1M723.6,892.1L741.0,874.7" fill="none" stroke="#ff00ff" stroke-width="1.85"/>
<path d="M1545.7,391.7H1570.3M1558.0,379.4V404.0M1549.3,383.0L1566.7,400.4M1549.3,400.4L1566.7,383.0" fill="none" stroke="#ff00ff" stroke-width="1.85"/>
</g>
<g>
<text transform="translate(181.7,1199.8) scale(1,1.04)" font-size="42.0" text-anchor="middle" fill="#262626" stroke="#fff" stroke-width="0.3">0.098</text>
<text transform="translate(378.3,1199.8) scale(1,1.04)" font-size="42.0" text-anchor="middle" fill="#262626" stroke="#fff" stroke-width="0.3">0.099</text>
<text transform="translate(574.9,1199.8) scale(1,1.04)" font-size="42.0" text-anchor="middle" fill="#262626" stroke="#fff" stroke-width="0.3">0.1</text>
<text transform="translate(771.5,1199.8) scale(1,1.04)" font-size="42.0" text-anchor="middle" fill="#262626" stroke="#fff" stroke-width="0.3">0.101</text>
<text transform="translate(968.1,1199.8) scale(1,1.04)" font-size="42.0" text-anchor="middle" fill="#262626" stroke="#fff" stroke-width="0.3">0.102</text>
<text transform="translate(1164.7,1199.8) scale(1,1.04)" font-size="42.0" text-anchor="middle" fill="#262626" stroke="#fff" stroke-width="0.3">0.103</text>
<text transform="translate(1361.3,1199.8) scale(1,1.04)" font-size="42.0" text-anchor="middle" fill="#262626" stroke="#fff" stroke-width="0.3">0.104</text>
<text transform="translate(1557.9,1199.8) scale(1,1.04)" font-size="42.0" text-anchor="middle" fill="#262626" stroke="#fff" stroke-width="0.3">0.105</text>
<text transform="translate(164.6,1158.1) scale(1,1.04)" font-size="42.0" text-anchor="end" fill="#262626" stroke="#fff" stroke-width="0.3">980</text>
<text transform="translate(164.6,971.2) scale(1,1.04)" font-size="42.0" text-anchor="end" fill="#262626" stroke="#fff" stroke-width="0.3">985</text>
<text transform="translate(164.6,784.4) scale(1,1.04)" font-size="42.0" text-anchor="end" fill="#262626" stroke="#fff" stroke-width="0.3">990</text>
<text transform="translate(164.6,597.5) scale(1,1.04)" font-size="42.0" text-anchor="end" fill="#262626" stroke="#fff" stroke-width="0.3">995</text>
<text transform="translate(164.6,410.7) scale(1,1.04)" font-size="42.0" text-anchor="end" fill="#262626" stroke="#fff" stroke-width="0.3">1000</text>
<text transform="translate(164.6,223.8) scale(1,1.04)" font-size="42.0" text-anchor="end" fill="#262626" stroke="#fff" stroke-width="0.3">1005</text>
</g>
<text transform="translate(870.4,43.2) scale(1,1.015)" font-size="46.4" text-anchor="middle" fill="#000" stroke="#fff" stroke-width="0.3">Response Curve</text>
<text transform="translate(869.5,1261.9) scale(1,1.015)" font-size="46.4" text-anchor="middle" fill="#262626" stroke="#fff" stroke-width="0.3">time t/s</text>
<text transform="translate(46.6,598.0) rotate(-90) scale(1,1.015)" font-size="46.4" text-anchor="middle" fill="#262626" stroke="#fff" stroke-width="0.3">RPM n/(r/min)</text>
<rect x="1133.9" y="88.9" width="392.00" height="220.15" fill="#fff"/>
<g fill="none" stroke-linecap="butt">
<path d="M1132.30,87.90V310.05" stroke="#b0b0b0" stroke-width="1.3"/>
<path d="M1524.30,89.90V308.05" stroke="#8e8e8e" stroke-width="1.4"/>
<path d="M1134.90,90.50H1524.90" stroke="#bcbcbc" stroke-width="1.3"/>
<path d="M1134.90,307.65H1524.90" stroke="#d4d4d4" stroke-width="1.0"/>
<path d="M1132.90,88.90H1526.85" stroke="#555555" stroke-width="2.0"/>
<path d="M1132.90,309.05H1526.85" stroke="#3e3e3e" stroke-width="1.9"/>
<path d="M1133.90,87.90V310.00" stroke="#505050" stroke-width="2.0"/>
<path d="M1525.90,87.90V310.00" stroke="#666666" stroke-width="1.9"/>
</g>
<path d="M1145.4,121.3H1272.3" stroke="#ff0000" stroke-width="1.75" fill="none"/>
<polygon points="1209.0,104.3 1194.6,129.2 1223.4,129.2" fill="none" stroke="#ff0000" stroke-width="1.85" stroke-linejoin="miter"/>
<text transform="translate(1281.2,136.2) scale(1,1.04)" font-size="38.2" text-anchor="start" fill="#000" stroke="#fff" stroke-width="0.3">PSO-ADRC</text>
<path d="M1145.4,173.1H1272.3" stroke="#00ff00" stroke-width="1.75" fill="none"/>
<rect x="1199.2" y="163.3" width="19.6" height="19.6" fill="none" stroke="#00ff00" stroke-width="1.85"/>
<text transform="translate(1281.2,188.3) scale(1,1.04)" font-size="38.2" text-anchor="start" fill="#000" stroke="#fff" stroke-width="0.3">IPSO-ADRC</text>
<path d="M1145.4,225.0H1272.3" stroke="#0000ff" stroke-width="1.75" fill="none"/>
<circle cx="1209.0" cy="225.0" r="12.8" fill="none" stroke="#0000ff" stroke-width="1.85"/>
<text transform="translate(1281.2,240.5) scale(1,1.04)" font-size="38.2" text-anchor="start" fill="#000" stroke="#fff" stroke-width="0.3">ICFO-ADRC</text>
<path d="M1145.4,276.8H1272.3" stroke="#ff00ff" stroke-width="1.75" fill="none"/>
<path d="M1196.7,276.8H1221.3M1209.0,264.5V289.1M1200.3,268.1L1217.7,285.5M1200.3,285.5L1217.7,268.1" fill="none" stroke="#ff00ff" stroke-width="1.85"/>
<text transform="translate(1281.2,292.6) scale(1,1.04)" font-size="38.2" text-anchor="start" fill="#000" stroke="#fff" stroke-width="0.3">QPSO-ADRC</text>
</svg>
</body>
</html>
